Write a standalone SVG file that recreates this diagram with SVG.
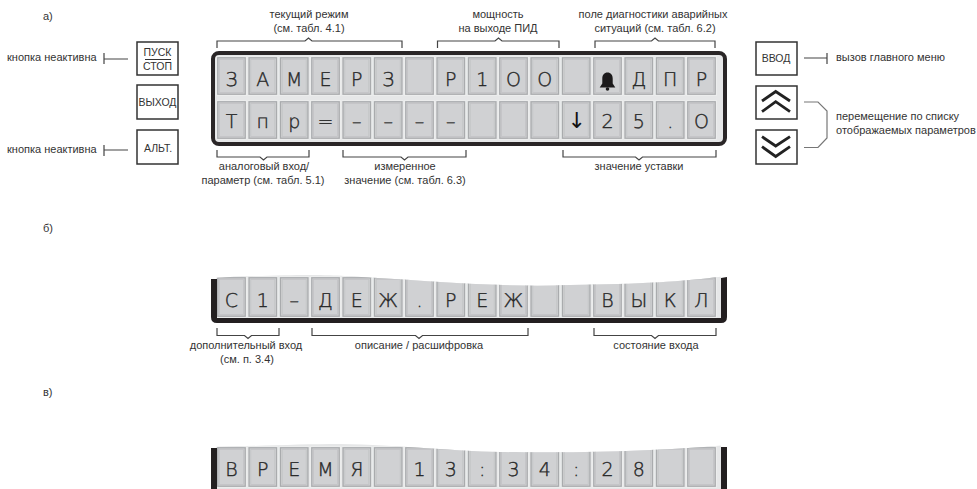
<svg xmlns="http://www.w3.org/2000/svg" width="977" height="489" viewBox="0 0 977 489">
<style>
text{font-family:"Liberation Sans",Arial,sans-serif;font-size:11px;fill:#333}
.m{text-anchor:middle}
.b{font-size:10.5px}
.ch{font-family:"DejaVu Sans","Liberation Sans",sans-serif;font-size:19px;font-weight:200;text-anchor:middle;fill:#262626;stroke:#262626;stroke-width:.35;text-rendering:geometricPrecision}
.btn{fill:#fff;stroke:#333;stroke-width:1.5}
.con{fill:none;stroke:#444;stroke-width:1.2}
.chev{fill:none;stroke:#222;stroke-width:2.8}
</style>
<defs>
<g id="c38"><rect x="-.5" y="-.5" width="30" height="39" fill="#d0d1d3" stroke="#eceded"/><rect x=".8" y=".8" width="27.4" height="36.4" fill="none" stroke="#a9abad" stroke-width="1.2"/><rect x="2.500" y="2.500" width="24" height="33" fill="none" stroke="#c2c3c5" stroke-width=".8"/></g>
<g id="c40"><rect x="-.5" y="-.5" width="30" height="41" fill="#d0d1d3" stroke="#eceded"/><rect x=".8" y=".8" width="27.4" height="38.4" fill="none" stroke="#a9abad" stroke-width="1.2"/><rect x="2.500" y="2.500" width="24" height="35" fill="none" stroke="#c2c3c5" stroke-width=".8"/></g>
<clipPath id="wb"><path d="M211 278C270 275 320 274 345 276C420 280 500 288 570 285C640 284 680 282 727 276V325H211Z"/></clipPath>
<clipPath id="wc"><path d="M211 447C260 446 300 444 340 444C400 445 450 451 500 452C560 453 650 452 727 445V489H211Z"/></clipPath>
</defs>
<rect width="977" height="489" fill="#fff"/>

<g id="captions">
<text x="43" y="20">а)</text>
<text x="43" y="232">б)</text>
<text x="43" y="396">в)</text>
</g>

<g id="connectors" class="con">
<path d="M104 53V64M104 59H128"/>
<path d="M104 145V156M104 150H128"/>
<path d="M827 53V64M827 58H804"/>
<path d="M804 102H818L827 111V138L818 147.500H804" stroke="#777"/>
<path d="M217 48V41H305L308.500 38L312 41H402V48"/>
<path d="M437.500 48V41H495L498.500 38L502 41H559V48"/>
<path d="M595 48V41H651.500L655 38L658.500 41H715V48"/>
<path d="M217 150V157H260L263.500 160L267 157H309V150"/>
<path d="M343 150V157H401L404.500 160L408 157H466V150"/>
<path d="M563 150V157H635.500L639 160L642.500 157H716V150"/>
<path d="M217 328V335.500H244.500L248 338.500L251.500 335.500H279V328"/>
<path d="M312 328V335.500H415.500L419 338.500L422.500 335.500H528V328"/>
<path d="M594 328V335.500H651.500L655 338.500L658.500 335.500H716V328"/>
</g>

<g id="btn-start"><rect class="btn" x="137" y="42" width="41" height="33"/><path d="M145 59.500H171" stroke="#333" fill="none"/><text class="m b" x="157.500" y="55.500">ПУСК</text><text class="m b" x="157.500" y="70">СТОП</text></g>
<g id="btn-exit"><rect class="btn" x="137" y="85" width="41" height="34"/><text class="m b" x="157.500" y="106">ВЫХОД</text></g>
<g id="btn-alt"><rect class="btn" x="137" y="130" width="41" height="34"/><text class="m b" x="158" y="152">АЛЬТ.</text></g>
<g id="btn-enter"><rect class="btn" x="756" y="42" width="41" height="33"/><text class="m b" x="776" y="62">ВВОД</text></g>
<g id="btn-up"><rect class="btn" x="756" y="86" width="41" height="33"/><path class="chev" d="M762 101L775.700 91.500L790 101M762 111.700L775.700 101.700L790 111.700"/></g>
<g id="btn-down"><rect class="btn" x="756" y="130" width="41" height="34"/><path class="chev" d="M762 136.700L775.700 146L790 136.700M762 146.700L775.700 156.500L790 146.700"/></g>

<g id="labels">
<text x="7" y="61">кнопка неактивна</text>
<text x="7" y="153">кнопка неактивна</text>
<text x="836" y="61">вызов главного меню</text>
<text x="836" y="120">перемещение по списку</text>
<text x="836" y="134">отображаемых параметров</text>
<text class="m" x="309" y="18">текущий режим</text>
<text class="m" x="309" y="32">(см. табл. 4.1)</text>
<text class="m" x="498" y="18">мощность</text>
<text class="m" x="498" y="32">на выходе ПИД</text>
<text class="m" x="653" y="18">поле диагностики аварийных</text>
<text class="m" x="655" y="32">ситуаций (см. табл. 6.2)</text>
<text class="m" x="264" y="170">аналоговый вход/</text>
<text class="m" x="263" y="184">параметр (см. табл. 5.1)</text>
<text class="m" x="405" y="170">измеренное</text>
<text class="m" x="405" y="184">значение (см. табл. 6.3)</text>
<text class="m" x="639" y="170">значение уставки</text>
<text class="m" x="246" y="349">дополнительный вход</text>
<text class="m" x="247" y="363">(см. п. 3.4)</text>
<text class="m" x="419" y="349">описание / расшифровка</text>
<text class="m" x="656" y="349">состояние входа</text>
</g>

<g id="display-a">
<rect x="213" y="53" width="512" height="91" rx="6" fill="#e6e7e8" stroke="#2a2627" stroke-width="4"/>
<use href="#c38" x="217" y="57"/><use href="#c38" x="248.300" y="57"/><use href="#c38" x="279.700" y="57"/><use href="#c38" x="311" y="57"/><use href="#c38" x="342.300" y="57"/><use href="#c38" x="373.700" y="57"/><use href="#c38" x="405" y="57"/><use href="#c38" x="436.300" y="57"/><use href="#c38" x="467.700" y="57"/><use href="#c38" x="499" y="57"/><use href="#c38" x="530.300" y="57"/><use href="#c38" x="561.700" y="57"/><use href="#c38" x="593" y="57"/><use href="#c38" x="624.300" y="57"/><use href="#c38" x="655.700" y="57"/><use href="#c38" x="687" y="57"/>
<use href="#c38" x="217" y="101"/><use href="#c38" x="248.300" y="101"/><use href="#c38" x="279.700" y="101"/><use href="#c38" x="311" y="101"/><use href="#c38" x="342.300" y="101"/><use href="#c38" x="373.700" y="101"/><use href="#c38" x="405" y="101"/><use href="#c38" x="436.300" y="101"/><use href="#c38" x="467.700" y="101"/><use href="#c38" x="499" y="101"/><use href="#c38" x="530.300" y="101"/><use href="#c38" x="561.700" y="101"/><use href="#c38" x="593" y="101"/><use href="#c38" x="624.300" y="101"/><use href="#c38" x="655.700" y="101"/><use href="#c38" x="687" y="101"/>
<text class="ch" x="231.500" y="86">З</text><text class="ch" x="262.800" y="86">А</text><text class="ch" x="294.200" y="86">М</text><text class="ch" x="325.500" y="86">Е</text><text class="ch" x="356.800" y="86">Р</text><text class="ch" x="388.200" y="86">З</text><text class="ch" x="450.800" y="86">Р</text><text class="ch" x="482.200" y="86">1</text><text class="ch" x="513.500" y="86">О</text><text class="ch" x="544.800" y="86">О</text>
<path d="M607.500 72.500c-3.200 0-5.200 2.500-5.200 6v5l-2.600 4h15.600l-2.600-4v-5c0-3.500-2-6-5.200-6z" fill="#1c1a1b"/><circle cx="607.500" cy="89" r="1.800" fill="#1c1a1b"/>
<text class="ch" x="638.800" y="86">Д</text><text class="ch" x="670.200" y="86">П</text><text class="ch" x="701.500" y="86">Р</text>
<text class="ch" x="231.500" y="128">Т</text><text class="ch" x="262.800" y="128">п</text><text class="ch" x="294.200" y="128">р</text><text class="ch" x="325.500" y="128">=</text><text class="ch" x="356.800" y="128">–</text><text class="ch" x="388.200" y="128">–</text><text class="ch" x="419.500" y="128">–</text><text class="ch" x="450.800" y="128">–</text>
<text class="ch" x="576.700" y="128" style="font-size:22px;font-weight:400;stroke:none;fill:#111">↓</text>
<text class="ch" x="607.500" y="128">2</text><text class="ch" x="638.800" y="128">5</text><text class="ch" x="670.200" y="128">.</text><text class="ch" x="701.500" y="128">О</text>
</g>

<g id="display-b">
<g clip-path="url(#wb)">
<rect x="217" y="270" width="504" height="48" fill="#e6e7e8"/>
<use href="#c40" x="217" y="277"/><use href="#c40" x="248.300" y="277"/><use href="#c40" x="279.700" y="277"/><use href="#c40" x="311" y="277"/><use href="#c40" x="342.300" y="277"/><use href="#c40" x="373.700" y="277"/><use href="#c40" x="405" y="277"/><use href="#c40" x="436.300" y="277"/><use href="#c40" x="467.700" y="277"/><use href="#c40" x="499" y="277"/><use href="#c40" x="530.300" y="277"/><use href="#c40" x="561.700" y="277"/><use href="#c40" x="593" y="277"/><use href="#c40" x="624.300" y="277"/><use href="#c40" x="655.700" y="277"/><use href="#c40" x="687" y="277"/>
</g>
<path d="M211 279V317Q211 323 217 323H721Q727 323 727 317V277L721 278V318H217V279Z" fill="#231f20"/>
<text class="ch" x="231.500" y="307">С</text><text class="ch" x="262.800" y="307">1</text><text class="ch" x="294.200" y="307">–</text><text class="ch" x="325.500" y="307">Д</text><text class="ch" x="356.800" y="307">Е</text><text class="ch" x="388.200" y="307">Ж</text><text class="ch" x="419.500" y="307">.</text><text class="ch" x="450.800" y="307">Р</text><text class="ch" x="482.200" y="307">Е</text><text class="ch" x="513.500" y="307">Ж</text><text class="ch" x="607.500" y="307">В</text><text class="ch" x="638.800" y="307">Ы</text><text class="ch" x="670.200" y="307">К</text><text class="ch" x="701.500" y="307">Л</text>
</g>

<g id="display-c">
<g clip-path="url(#wc)">
<rect x="217" y="440" width="504" height="49" fill="#e6e7e8"/>
<use href="#c40" x="217" y="447"/><use href="#c40" x="248.300" y="447"/><use href="#c40" x="279.700" y="447"/><use href="#c40" x="311" y="447"/><use href="#c40" x="342.300" y="447"/><use href="#c40" x="373.700" y="447"/><use href="#c40" x="405" y="447"/><use href="#c40" x="436.300" y="447"/><use href="#c40" x="467.700" y="447"/><use href="#c40" x="499" y="447"/><use href="#c40" x="530.300" y="447"/><use href="#c40" x="561.700" y="447"/><use href="#c40" x="593" y="447"/><use href="#c40" x="624.300" y="447"/><use href="#c40" x="655.700" y="447"/><use href="#c40" x="687" y="447"/>
</g>
<rect x="211" y="448" width="6" height="41" fill="#231f20"/>
<rect x="721" y="447" width="6" height="42" fill="#231f20"/>
<text class="ch" x="231.500" y="476">В</text><text class="ch" x="262.800" y="476">Р</text><text class="ch" x="294.200" y="476">Е</text><text class="ch" x="325.500" y="476">М</text><text class="ch" x="356.800" y="476">Я</text><text class="ch" x="419.500" y="476">1</text><text class="ch" x="450.800" y="476">3</text><text class="ch" x="482.200" y="476">:</text><text class="ch" x="513.500" y="476">3</text><text class="ch" x="544.800" y="476">4</text><text class="ch" x="576.200" y="476">:</text><text class="ch" x="607.500" y="476">2</text><text class="ch" x="638.800" y="476">8</text>
</g>
</svg>
